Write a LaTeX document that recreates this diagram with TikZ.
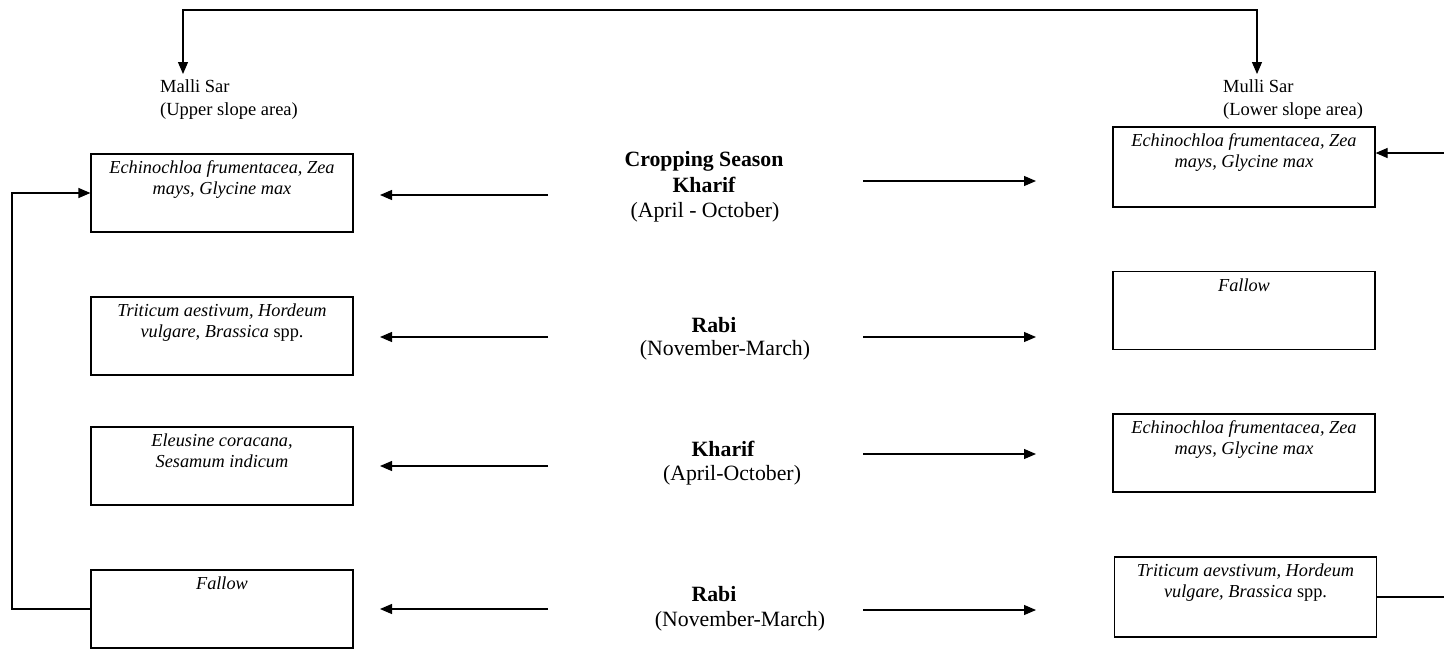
\documentclass[tikz,border=0pt]{standalone}
\usepackage{fontspec}
\setmainfont{Liberation Serif}
\usetikzlibrary{arrows.meta}
\begin{document}
\begin{tikzpicture}[x=1pt,y=-1pt,
  crop/.style={draw,line width=1.2pt,minimum width=262pt,minimum height=78pt,inner sep=0pt},
  boxtext/.style={font=\fontsize{18.3}{21.5}\selectfont\itshape,align=center,anchor=base,inner sep=0pt},
  side/.style={font=\fontsize{18.5}{22.5}\selectfont,align=left,anchor=base west,inner sep=0pt},
  season/.style={font=\fontsize{21.8}{26}\selectfont\bfseries,anchor=base,inner sep=0pt},
  months/.style={font=\fontsize{21.8}{26}\selectfont,anchor=base,inner sep=0pt},
  conn/.style={line width=1.2pt},
  tip/.style={Triangle[length=12pt,width=10pt]},
  arr/.style={line width=1.2pt,-{Triangle[length=12pt,width=10pt]}}]
\useasboundingbox (0,0) rectangle (1444,649);

% side labels (base = last line)
\node[side] (malli) at (160,115) {Malli Sar\\(Upper slope area)};
\node[side] (mulli) at (1223,115) {Mulli Sar\\(Lower slope area)};

% left boxes
\node[crop] (L1) at (222,193) {};
\node[crop] (L2) at (222,336) {};
\node[crop] (L3) at (222,466) {};
\node[crop] (L4) at (222,609) {};
\node[boxtext] (L1t) at (222,194.5) {Echinochloa frumentacea, Zea\\mays, Glycine max};
\node[boxtext] (L2t) at (222,337.5) {Triticum aestivum, Hordeum\\vulgare, Brassica \textup{spp.}};
\node[boxtext] (L3t) at (222,467.5) {Eleusine coracana,\\Sesamum indicum};
\node[boxtext] (L4t) at (222,589) {Fallow};

% right boxes
\node[crop,minimum height=80pt] (R1) at (1244,167) {};
\node[crop] (R2) at (1244,310.5) {};
\node[crop] (R3) at (1244,453) {};
\node[crop,minimum height=80pt] (R4) at (1245.5,597) {};
\node[boxtext] (R1t) at (1244,167.5) {Echinochloa frumentacea, Zea\\mays, Glycine max};
\node[boxtext] (R2t) at (1244,291) {Fallow};
\node[boxtext] (R3t) at (1244,454.5) {Echinochloa frumentacea, Zea\\mays, Glycine max};
\node[boxtext] (R4t) at (1245.5,597.5) {Triticum aevstivum, Hordeum\\vulgare, Brassica \textup{spp.}};

% centre labels
\node[season] (s1a) at (704,166) {Cropping Season};
\node[season] (s1b) at (704,192) {Kharif};
\node[months] (s1c) at (705,217) {(April - October)};
\node[season] (s2a) at (714,332) {Rabi};
\node[months] (s2b) at (725,355) {(November-March)};
\node[season] (s3a) at (723,456) {Kharif};
\node[months] (s3b) at (732,480) {(April-October)};
\node[season] (s4a) at (714,601) {Rabi};
\node[months] (s4b) at (740,626) {(November-March)};

% horizontal arrows
\foreach \i/\yl/\yr in {1/195/181, 2/337/337, 3/466/454, 4/609/610}{
  \coordinate (la\i) at (548,\yl);
  \coordinate (lb\i) at (380,\yl);
  \coordinate (ra\i) at (863,\yr);
  \coordinate (rb\i) at (1036,\yr);
  \draw[arr] (la\i) -- (lb\i);
  \draw[arr] (ra\i) -- (rb\i);
}

% top connector
\coordinate (ta) at (183,74);
\coordinate (tb) at (1257,74);
\coordinate (top) at (720,10);
\draw[conn,{Triangle[length=12pt,width=10pt]}-{Triangle[length=12pt,width=10pt]}] (ta) |- (top) -| (tb);

% left feedback loop
\coordinate (lf) at (12,400);
\draw[arr] (L4.west) -| (lf) |- (L1.west);

% right side lines
\coordinate (rin) at (1444,153);
\coordinate (rout) at (1444,597);
\draw[arr] (rin) -- (rin -| R1.east);
\draw[conn] (R4.east) -- (rout);
\end{tikzpicture}
\end{document}
